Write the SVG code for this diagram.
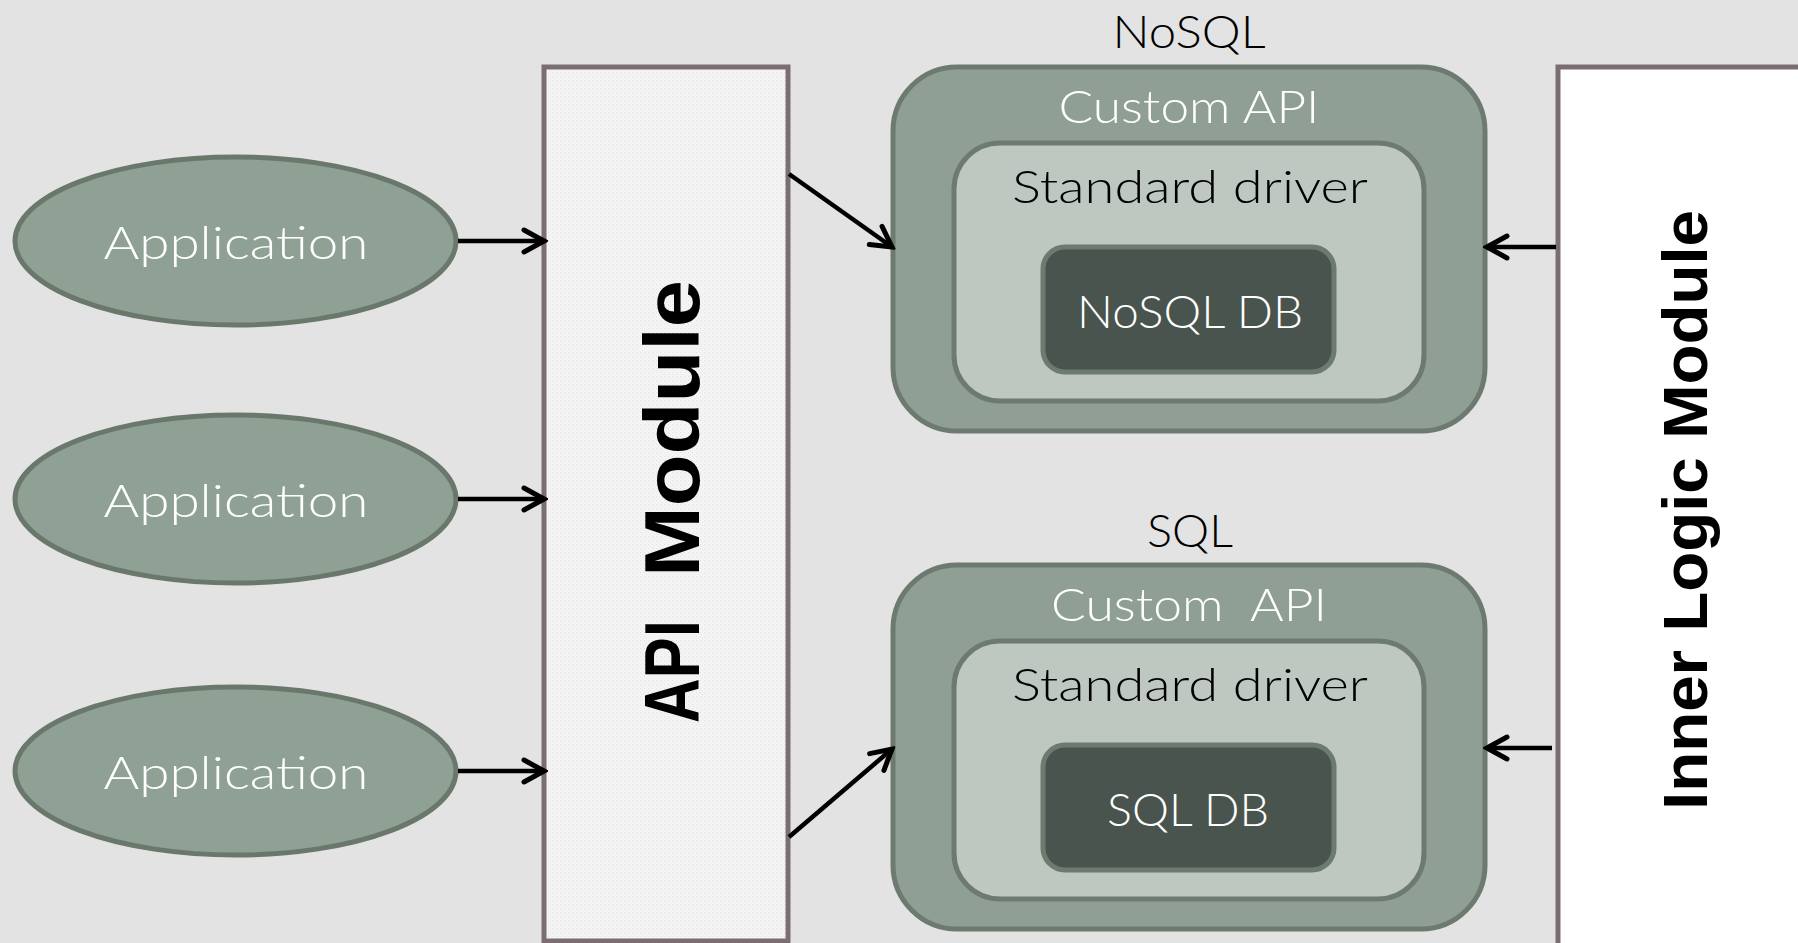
<svg xmlns="http://www.w3.org/2000/svg" width="1798" height="943" viewBox="0 0 1798 943">
<style>
.app{fill:#8fa094;stroke:#6a786c;stroke-width:5}
.outer{fill:#909f94;stroke:#6d7a6f;stroke-width:5}
.inner{fill:#bec8c1;stroke:#6d7a6f;stroke-width:5}
.db{fill:#4a544e;stroke:#6d7a6f;stroke-width:5}
.mod{stroke:#7a6e74;stroke-width:5}
.t{font-family:"Century Gothic","Lato","Liberation Sans",sans-serif;font-weight:300;font-size:46px;text-anchor:middle}
.w{fill:#ffffff}
.k{fill:#000000}
.b{font-family:"Liberation Sans","Arial",sans-serif;font-weight:bold;fill:#000000}
.conn{stroke:#000000;stroke-width:4.5;fill:none;marker-end:url(#arr)}
</style>
<defs>
<marker id="arr" markerUnits="userSpaceOnUse" markerWidth="30" markerHeight="30" viewBox="0 0 30 30" refX="26" refY="15" orient="auto">
<path d="M6,4 L26,15 L6,26" fill="none" stroke="#000000" stroke-width="5" stroke-linecap="round" stroke-linejoin="miter"/>
</marker>
<pattern id="dots" width="4" height="4" patternUnits="userSpaceOnUse">
<rect width="4" height="4" fill="#f4f4f4"/>
<rect width="1" height="1" fill="#e2e2e2"/>
<rect x="2" y="2" width="1" height="1" fill="#e8e8e8"/>
</pattern>
</defs>
<rect x="0" y="0" width="1798" height="943" fill="#e3e3e3"/>

<g id="api-module">
<rect class="mod" x="544" y="67" width="244" height="874" fill="url(#dots)"/>
<text class="b" font-size="77" transform="rotate(-90)"><tspan x="-723" y="699" textLength="103" lengthAdjust="spacingAndGlyphs">API</tspan><tspan x="-577" y="699" textLength="297" lengthAdjust="spacingAndGlyphs">Module</tspan></text>
</g>

<g id="inner-logic-module">
<rect class="mod" x="1558" y="67" width="260" height="900" fill="#ffffff"/>
<text class="b" font-size="63" transform="rotate(-90)" x="-810" y="1707" textLength="600" lengthAdjust="spacingAndGlyphs">Inner Logic Module</text>
</g>

<g id="app1">
<ellipse class="app" cx="235.5" cy="241" rx="220.5" ry="84"/>
<text class="t w" x="236" y="259" textLength="265" lengthAdjust="spacingAndGlyphs">Application</text>
</g>
<g id="app2">
<ellipse class="app" cx="235.5" cy="499" rx="220.5" ry="84"/>
<text class="t w" x="236" y="517" textLength="265" lengthAdjust="spacingAndGlyphs">Application</text>
</g>
<g id="app3">
<ellipse class="app" cx="235.5" cy="771" rx="220.5" ry="84"/>
<text class="t w" x="236" y="789" textLength="265" lengthAdjust="spacingAndGlyphs">Application</text>
</g>

<g id="nosql">
<text class="t k" x="1189" y="48" font-size="44" textLength="153" lengthAdjust="spacingAndGlyphs">NoSQL</text>
<rect class="outer" x="893" y="67" width="592" height="364" rx="64" ry="64"/>
<text class="t w" x="1189" y="123" textLength="261" lengthAdjust="spacingAndGlyphs">Custom API</text>
<rect class="inner" x="954" y="143" width="470" height="258" rx="46" ry="46"/>
<text class="t k" x="1190" y="203" textLength="356" lengthAdjust="spacingAndGlyphs">Standard driver</text>
<rect class="db" x="1043" y="247" width="291" height="125" rx="22" ry="22"/>
<text class="t w" x="1190" y="328" textLength="226" lengthAdjust="spacingAndGlyphs">NoSQL DB</text>
</g>

<g id="sql">
<text class="t k" x="1190" y="547" font-size="44" textLength="86" lengthAdjust="spacingAndGlyphs">SQL</text>
<rect class="outer" x="893" y="565" width="592" height="364" rx="64" ry="64"/>
<text class="t w" x="1189" y="621" textLength="276" lengthAdjust="spacingAndGlyphs" xml:space="preserve">Custom  API</text>
<rect class="inner" x="954" y="641" width="470" height="258" rx="46" ry="46"/>
<text class="t k" x="1190" y="701" textLength="356" lengthAdjust="spacingAndGlyphs">Standard driver</text>
<rect class="db" x="1043" y="745" width="291" height="125" rx="22" ry="22"/>
<text class="t w" x="1188" y="826" textLength="162" lengthAdjust="spacingAndGlyphs">SQL DB</text>
</g>

<g id="connectors">
<line class="conn" x1="458" y1="241" x2="544" y2="241"/>
<line class="conn" x1="458" y1="499" x2="544" y2="499"/>
<line class="conn" x1="458" y1="771" x2="544" y2="771"/>
<line class="conn" x1="789" y1="174" x2="892" y2="247"/>
<line class="conn" x1="789" y1="837" x2="892" y2="749"/>
<line class="conn" x1="1556" y1="247" x2="1487" y2="247"/>
<line class="conn" x1="1552" y1="748" x2="1487" y2="748"/>
</g>
</svg>
